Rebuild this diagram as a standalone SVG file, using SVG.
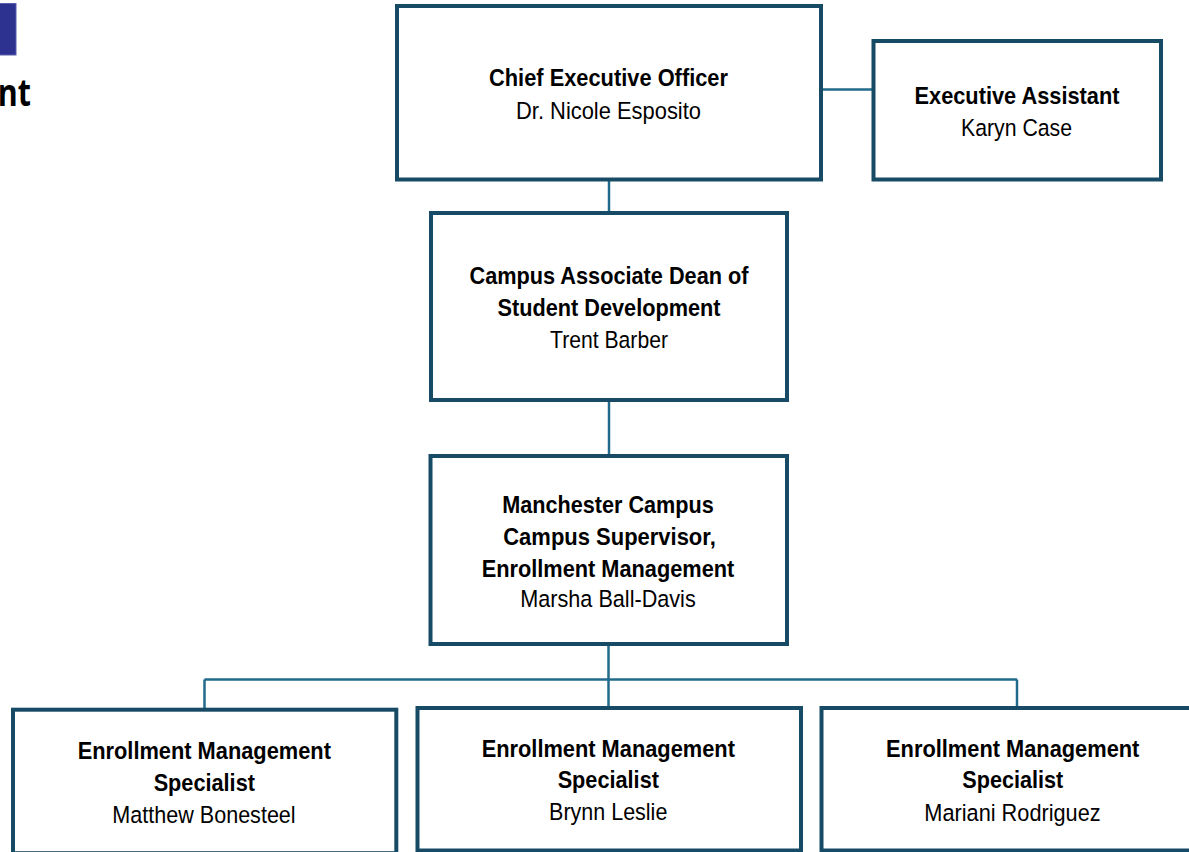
<svg xmlns="http://www.w3.org/2000/svg" width="1189" height="852" viewBox="0 0 1189 852">
  <style>
    .box { fill: #ffffff; stroke: #174a64; stroke-width: 4; }
    .conn { fill: none; stroke: #226a8c; stroke-width: 2.5; }
    .t { font-family: "Liberation Sans", Arial, sans-serif; font-size: 24.5px; font-weight: 700; fill: #000000; text-anchor: middle; }
    .n { font-family: "Liberation Sans", Arial, sans-serif; font-size: 24.5px; font-weight: 400; fill: #000000; text-anchor: middle; }
  </style>
  <rect width="1189" height="852" fill="#ffffff"/>

  <g id="header-fragment">
    <rect x="-4" y="3.5" width="20" height="51.5" fill="#2d3190" stroke="#5a5eb0" stroke-width="1"/>
    <text transform="translate(31,106) scale(0.8,1)" text-anchor="end" font-family="Open Sans, sans-serif" font-weight="700" font-size="38" fill="#000000">nt</text>
  </g>

  <g id="connectors">
    <line class="conn" x1="823" y1="89.5" x2="872" y2="89.5"/>
    <line class="conn" x1="609" y1="181" x2="609" y2="211.5"/>
    <line class="conn" x1="609" y1="402" x2="609" y2="454.5"/>
    <line class="conn" x1="608.5" y1="646" x2="608.5" y2="706.5"/>
    <line class="conn" x1="204.5" y1="679.5" x2="1017" y2="679.5"/>
    <line class="conn" x1="204.5" y1="679.5" x2="204.5" y2="708"/>
    <line class="conn" x1="1017" y1="679.5" x2="1017" y2="706.5"/>
  </g>

  <g id="ceo">
    <rect class="box" x="397" y="6" width="424" height="173.5"/>
    <text class="t" x="608.5" y="86" textLength="239" lengthAdjust="spacingAndGlyphs">Chief Executive Officer</text>
    <text class="n" x="608.5" y="119" textLength="185" lengthAdjust="spacingAndGlyphs">Dr. Nicole Esposito</text>
  </g>

  <g id="executive-assistant">
    <rect class="box" x="873.5" y="41" width="287.5" height="138.5"/>
    <text class="t" x="1017" y="103.5" textLength="205" lengthAdjust="spacingAndGlyphs">Executive Assistant</text>
    <text class="n" x="1016.5" y="136" textLength="111" lengthAdjust="spacingAndGlyphs">Karyn Case</text>
  </g>

  <g id="associate-dean">
    <rect class="box" x="431" y="213" width="356" height="187"/>
    <text class="t" x="609" y="283.5" textLength="279" lengthAdjust="spacingAndGlyphs">Campus Associate Dean of</text>
    <text class="t" x="609" y="316" textLength="223" lengthAdjust="spacingAndGlyphs">Student Development</text>
    <text class="n" x="609" y="347.5" textLength="118" lengthAdjust="spacingAndGlyphs">Trent Barber</text>
  </g>

  <g id="campus-supervisor">
    <rect class="box" x="430.5" y="456" width="356.5" height="188"/>
    <text class="t" x="608" y="512.7" textLength="211.5" lengthAdjust="spacingAndGlyphs">Manchester Campus</text>
    <text class="t" x="609.5" y="544.5" textLength="212.5" lengthAdjust="spacingAndGlyphs">Campus Supervisor,</text>
    <text class="t" x="608" y="576.7" textLength="252.5" lengthAdjust="spacingAndGlyphs">Enrollment Management</text>
    <text class="n" x="608" y="606.7" textLength="175.5" lengthAdjust="spacingAndGlyphs">Marsha Ball-Davis</text>
  </g>

  <g id="specialist-bonesteel">
    <rect class="box" x="13" y="709.7" width="383.3" height="143.5"/>
    <text class="t" x="204.3" y="759.3" textLength="253.3" lengthAdjust="spacingAndGlyphs">Enrollment Management</text>
    <text class="t" x="204.3" y="790.5" textLength="101.3" lengthAdjust="spacingAndGlyphs">Specialist</text>
    <text class="n" x="204" y="823.3" textLength="183.3" lengthAdjust="spacingAndGlyphs">Matthew Bonesteel</text>
  </g>

  <g id="specialist-leslie">
    <rect class="box" x="417.5" y="708" width="383.5" height="142.5"/>
    <text class="t" x="608.3" y="756.7" textLength="253.3" lengthAdjust="spacingAndGlyphs">Enrollment Management</text>
    <text class="t" x="608.3" y="788" textLength="101.3" lengthAdjust="spacingAndGlyphs">Specialist</text>
    <text class="n" x="608.2" y="820" textLength="118.3" lengthAdjust="spacingAndGlyphs">Brynn Leslie</text>
  </g>

  <g id="specialist-rodriguez">
    <rect class="box" x="821.5" y="708" width="383.5" height="142.5"/>
    <text class="t" x="1012.7" y="756.7" textLength="253.3" lengthAdjust="spacingAndGlyphs">Enrollment Management</text>
    <text class="t" x="1012.8" y="788.3" textLength="101" lengthAdjust="spacingAndGlyphs">Specialist</text>
    <text class="n" x="1012.5" y="820.7" textLength="176.3" lengthAdjust="spacingAndGlyphs">Mariani Rodriguez</text>
  </g>
</svg>
